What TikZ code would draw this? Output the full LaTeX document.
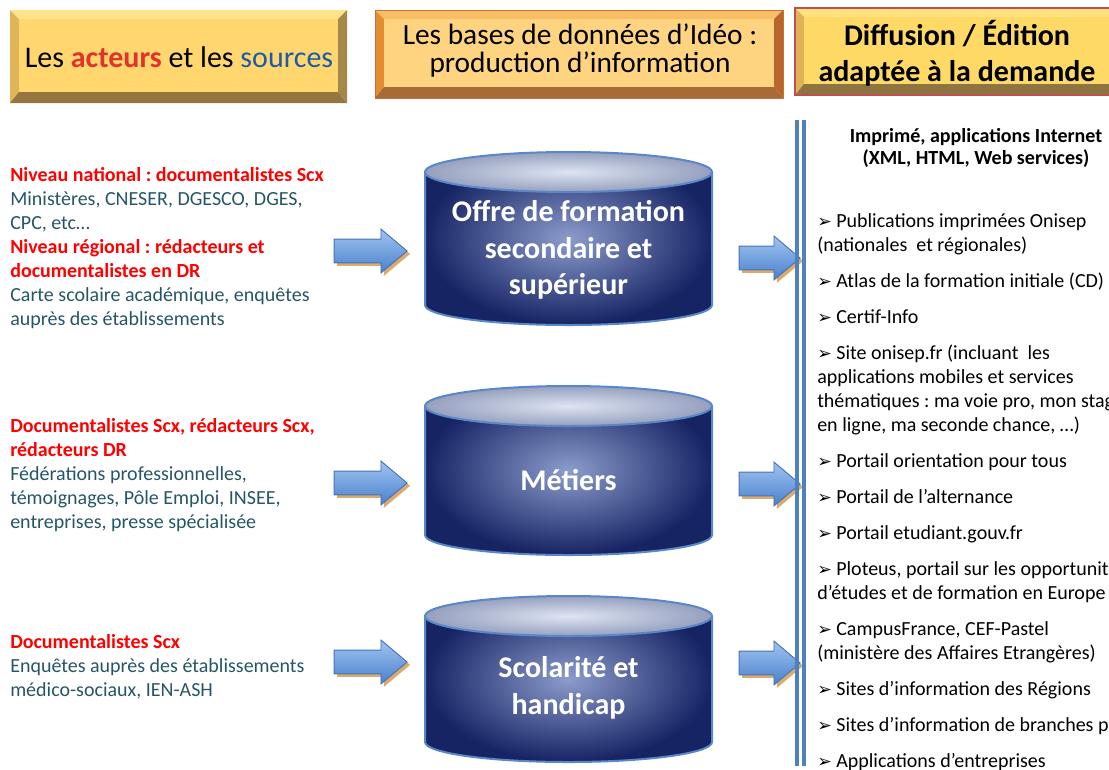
\documentclass[tikz,border=0pt]{standalone}
\usepackage{fontspec}
\setmainfont{Carlito}
\newfontfamily\symfont{DejaVu Sans}
\usetikzlibrary{shapes.arrows,shadows,positioning}
\frenchspacing

\definecolor{srcred}{RGB}{255,0,0}
\definecolor{srcgrey}{RGB}{38,86,102}
\definecolor{actred}{RGB}{222,52,44}
\definecolor{srcblue}{RGB}{30,90,170}
\definecolor{arrowtop}{RGB}{160,196,240}
\definecolor{arrowbot}{RGB}{74,128,205}
\definecolor{arrowline}{RGB}{70,115,180}
\definecolor{arrowshadow}{RGB}{218,170,110}
\definecolor{dbinner}{RGB}{140,156,204}
\definecolor{dbouter}{RGB}{22,36,100}
\definecolor{dbtopin}{RGB}{222,228,242}
\definecolor{dbtopout}{RGB}{150,160,190}
\definecolor{dbline}{RGB}{90,135,200}
\definecolor{sepblue}{RGB}{79,129,189}
% title box colours
\definecolor{aTop}{RGB}{255,228,140}
\definecolor{aLeft}{RGB}{226,180,88}
\definecolor{aRight}{RGB}{165,135,72}
\definecolor{aBot}{RGB}{148,118,62}
\definecolor{aFace}{RGB}{255,215,110}
\definecolor{bTop}{RGB}{248,190,100}
\definecolor{bLeft}{RGB}{228,140,48}
\definecolor{bRight}{RGB}{184,102,44}
\definecolor{bBot}{RGB}{168,106,54}
\definecolor{bFace}{RGB}{255,212,128}
\definecolor{bEdge}{RGB}{205,110,60}
\definecolor{cTop}{RGB}{255,226,128}
\definecolor{cLeft}{RGB}{224,178,86}
\definecolor{cBot}{RGB}{142,116,64}
\definecolor{cFace}{RGB}{255,217,102}
\definecolor{cEdge}{RGB}{192,80,77}

% bevelled title box: x1, y1, x2, y2, top, left, right, bottom, face
\newcommand{\bevelbox}[9]{%
  \fill[#5] (#1,#2) -- (#3,#2) -- ({#3-9},{#2-9}) -- ({#1+9},{#2-9}) -- cycle;
  \fill[#6] (#1,#2) -- ({#1+9},{#2-9}) -- ({#1+9},{#4+11}) -- (#1,#4) -- cycle;
  \fill[#7] (#3,#2) -- ({#3-9},{#2-9}) -- ({#3-9},{#4+11}) -- (#3,#4) -- cycle;
  \fill[#8] (#1,#4) -- ({#1+9},{#4+11}) -- ({#3-9},{#4+11}) -- (#3,#4) -- cycle;
  \fill[#9] ({#1+9},{#2-9}) rectangle ({#3-9},{#4+11});
}
\newcommand{\itm}{{\symfont\fontsize{13}{12}\selectfont\char"27A2}\ }

\begin{document}
\begin{tikzpicture}[x=0.75pt,y=0.75pt,
  every node/.style={inner sep=0pt},
  srctext/.style={align=left,anchor=west,text=srcgrey,
    font=\fontsize{15}{18}\selectfont},
  dbtext/.style={align=center,text=white,
    font=\fontsize{22.5}{27.5}\selectfont\bfseries},
  blkarrow/.style={single arrow,draw=arrowline,line width=0.7pt,
    top color=arrowtop,bottom color=arrowbot,inner sep=8.6pt,
    single arrow head extend=7.5pt,single arrow tip angle=80,
    drop shadow={shadow xshift=2.2pt,shadow yshift=-2.2pt,
      fill=arrowshadow,opacity=1}},
  leftarrow/.style={blkarrow,minimum height=54.75pt},
  rightarrow/.style={blkarrow,minimum height=45.75pt},
  sepline/.style={draw=sepblue,line width=2.3pt}]

% picture frame
\clip (0,0) rectangle (1109,-769);

% title boxes
\bevelbox{10}{-10}{347}{-103}{aTop}{aLeft}{aRight}{aBot}{aFace}
\bevelbox{375}{-10}{783}{-98}{bTop}{bLeft}{bRight}{bBot}{bFace}
\draw[bEdge,line width=0.6pt] (375,-10) rectangle (783,-98);
\bevelbox{795}{-8}{1118}{-95}{cTop}{cLeft}{aRight}{cBot}{cFace}
\draw[cEdge,line width=1pt] (795,-8) rectangle (1118,-95);

\node[font=\fontsize{22.5}{22}\selectfont] (h1) at (179,-57)
  {Les {\bfseries\color{actred}acteurs} et les {\color{srcblue}sources}};
\node[align=center,font=\fontsize{22}{21}\selectfont] (h2) at (580,-51)
  {Les bases de données d’Idéo :\\production d’information};
\node[align=center,font=\fontsize{22.5}{27}\selectfont\bfseries] (h3) at (957,-53)
  {Diffusion / Édition\\adaptée à la demande};

% sources
\node[srctext] (src1) at (10,-248) {%
  {\color{srcred}\bfseries Niveau national : documentalistes Scx}\\
  Ministères, CNESER, DGESCO, DGES,\\
  CPC, etc…\\
  {\color{srcred}\bfseries Niveau régional : rédacteurs et}\\
  {\color{srcred}\bfseries documentalistes en DR}\\
  Carte scolaire académique, enquêtes\\
  auprès des établissements};
\node[srctext] (src2) at (10,-475) {%
  {\color{srcred}\bfseries Documentalistes Scx, rédacteurs Scx,}\\
  {\color{srcred}\bfseries rédacteurs DR}\\
  Fédérations professionnelles,\\
  témoignages, Pôle Emploi, INSEE,\\
  entreprises, presse spécialisée};
\node[srctext] (src3) at (10,-667) {%
  {\color{srcred}\bfseries Documentalistes Scx}\\
  Enquêtes auprès des établissements\\
  médico-sociaux, IEN-ASH};

% databases
\foreach \n/\top/\bot in {1/172/305, 2/406/535, 3/616/742} {
  \shade[inner color=dbinner,outer color=dbouter]
    (425,-\top) -- (425,-\bot) arc (180:360:143.5 and 20)
    -- (712,-\top) arc (0:180:143.5 and 20) -- cycle;
  \draw[dbline,line width=1.5pt]
    (425,-\top) -- (425,-\bot) arc (180:360:143.5 and 20) -- (712,-\top);
  \shade[inner color=dbtopin,outer color=dbtopout,draw=dbline,line width=1.5pt]
    (568.5,-\top) ellipse (143.5 and 20);
}
\node[dbtext] (db1) at (568.5,-250) {Offre de formation\\secondaire et\\supérieur};
\node[dbtext] (db2) at (568.5,-480) {Métiers};
\node[dbtext] (db3) at (568.5,-688) {Scolarité et\\handicap};

% arrows
\node[leftarrow] (in1) at (363.5,-251) {};
\node[leftarrow] (in2) at (363.5,-483) {};
\node[leftarrow] (in3) at (363.5,-662) {};
\node[rightarrow] (out1) at (762.5,-258) {};
\node[rightarrow] (out2) at (762.5,-484) {};
\node[rightarrow] (out3) at (762.5,-663) {};

% separator
\draw[sepline] (797,-120) -- (797,-766);
\draw[sepline] (804,-120) -- (804,-766);

% outputs
\node[align=center,font=\fontsize{15}{17}\selectfont\bfseries] (head) at (976,-148)
  {Imprimé, applications Internet\\(XML, HTML, Web services)};
\node[align=left,anchor=north west,font=\fontsize{15}{18}\selectfont] (items) at (817,-213) {%
  \itm Publications imprimées Onisep\\
  (nationales~ et régionales)\\[9pt]
  \itm Atlas de la formation initiale (CD)\\[9pt]
  \itm Certif-Info\\[9pt]
  \itm Site onisep.fr (incluant~ les\\
  applications mobiles et services\\
  thématiques : ma voie pro, mon stage\\
  en ligne, ma seconde chance, …)\\[9pt]
  \itm Portail orientation pour tous\\[9pt]
  \itm Portail de l’alternance\\[9pt]
  \itm Portail etudiant.gouv.fr\\[9pt]
  \itm Ploteus, portail sur les opportunités\\
  d'études et de formation en Europe\\[9pt]
  \itm CampusFrance, CEF-Pastel\\
  (ministère des Affaires Etrangères)\\[9pt]
  \itm Sites d’information des Régions\\[9pt]
  \itm Sites d’information de branches professionnelles\\[9pt]
  \itm Applications d’entreprises};
\end{tikzpicture}
\end{document}
